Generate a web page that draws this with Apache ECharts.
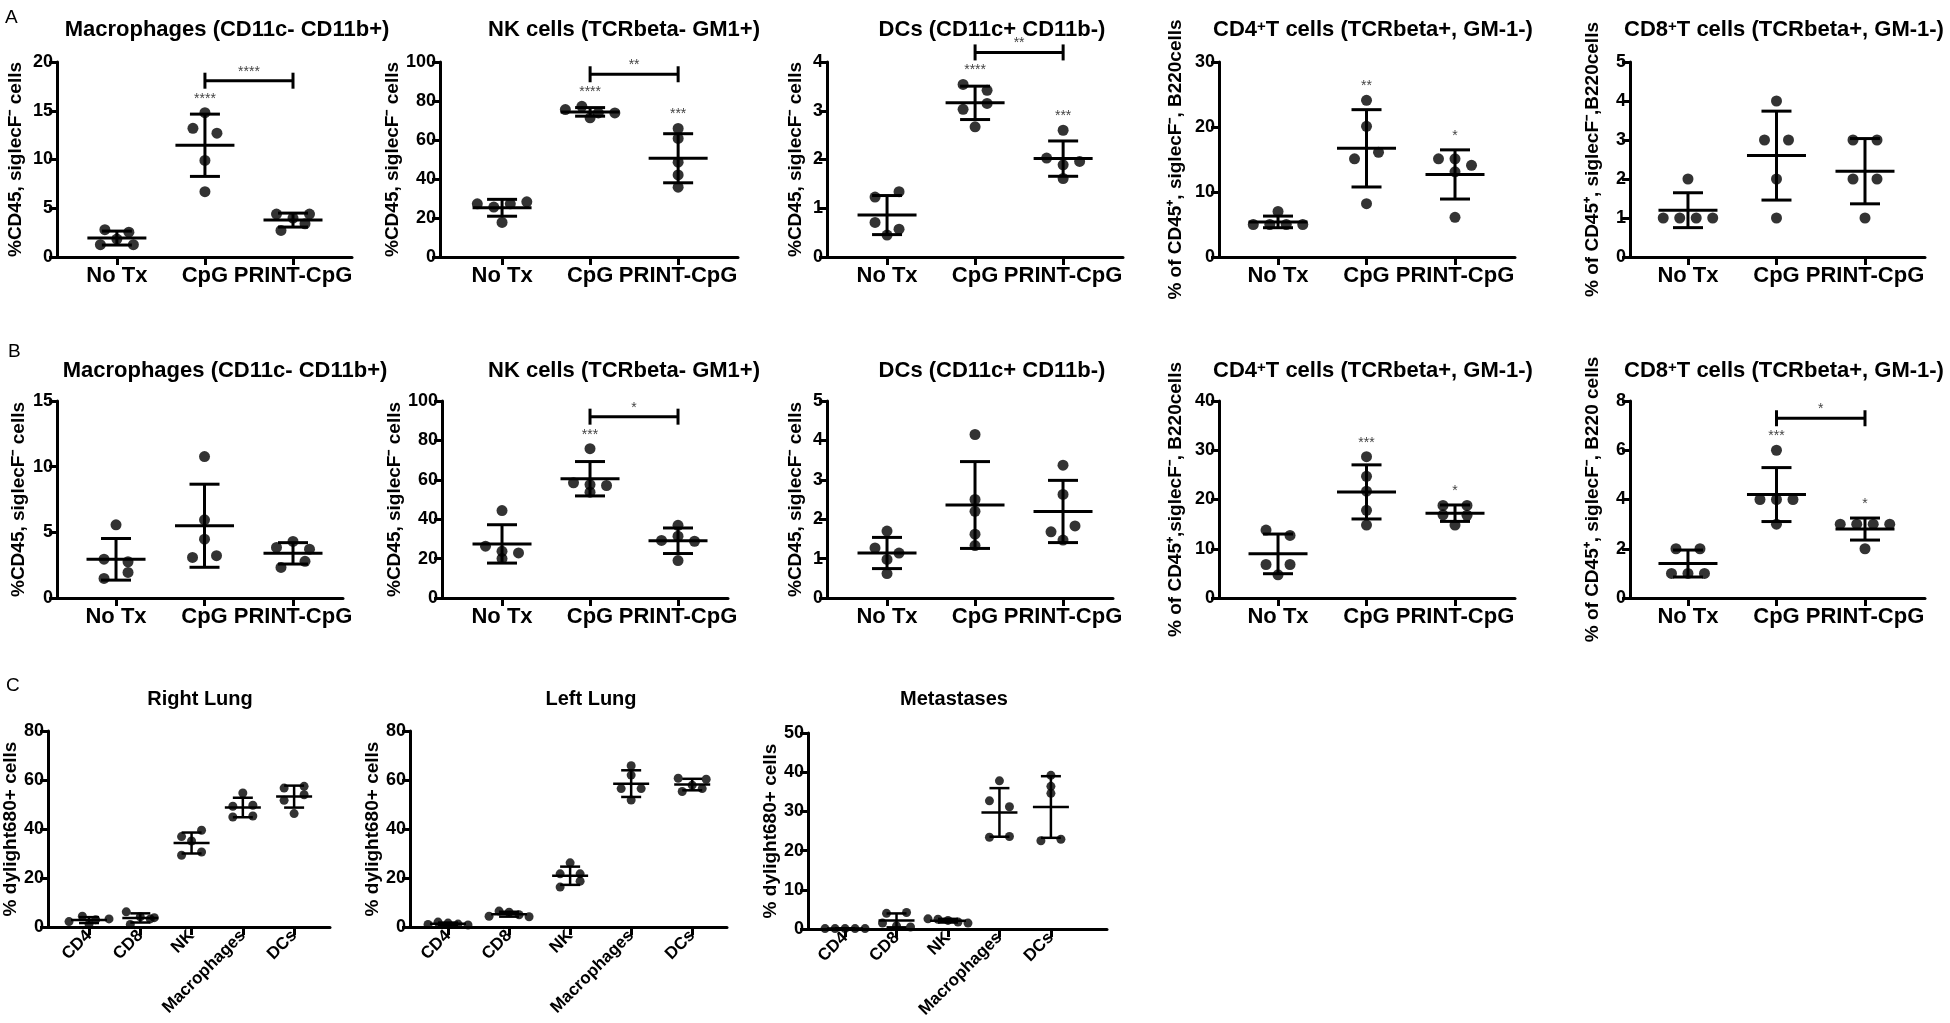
<!DOCTYPE html>
<html>
<head>
<meta charset="utf-8">
<title>Immune cell panels</title>
<script src="https://cdn.jsdelivr.net/npm/echarts@6.0.0/dist/echarts.min.js"></script>
<style>
html, body { margin: 0; padding: 0; background: #ffffff; }
#chart { width: 1950px; height: 1023px; }
</style>
</head>
<body>
<div id="chart"></div>
<script>
// ====================== DATA ======================
const groupsAB = ['No Tx', 'CpG', 'PRINT-CpG'];
const groupsC = ['CD4', 'CD8', 'NK', 'Macrophages', 'DCs'];

const titlesA = ['Macrophages (CD11c- CD11b+)', 'NK cells (TCRbeta- GM1+)', 'DCs (CD11c+ CD11b-)',
                 'CD4^+T cells (TCRbeta+, GM-1-)', 'CD8^+T cells (TCRbeta+, GM-1-)'];
const titlesB = titlesA.slice();
const titlesC = ['Right Lung', 'Left Lung', 'Metastases'];

const yNamesA = ['%CD45, siglecF\u207B cells', '%CD45, siglecF\u207B cells', '%CD45, siglecF\u207B cells',
                 '% of CD45\u207A, siglecF\u207B, B220cells', '% of CD45\u207A, siglecF\u207B,B220cells'];
const yNamesB = ['%CD45, siglecF\u207B cells', '%CD45, siglecF\u207B cells', '%CD45, siglecF\u207B cells',
                 '% of CD45\u207A,siglecF\u207B, B220cells', '% of CD45\u207A, siglecF\u207B, B220 cells'];
const yNameC = '% dylight680+ cells';

const yMaxA = [20, 100, 4, 30, 5];
const yStepA = [5, 20, 1, 10, 1];
const yMaxB = [15, 100, 5, 40, 8];
const yStepB = [5, 20, 1, 10, 2];
const yMaxC = [80, 80, 50];
const yStepC = [20, 20, 10];

// Row A values per group (No Tx, CpG, PRINT-CpG)
const A_macrophages = [[2.8, 2.55, 1.26, 1.84, 1.26], [14.8, 13.2, 12.7, 9.9, 6.7], [4.4, 3.99, 4.4, 2.73, 3.41]];
const A_nk          = [[27.3, 25.6, 27.3, 28.3, 17.7], [75.6, 77.3, 73.9, 73.9, 71.4], [65.9, 60.8, 48.6, 42.1, 35.8]];
const A_dcs         = [[1.23, 1.34, 0.71, 0.57, 0.45], [3.54, 3.42, 3.03, 3.15, 2.67], [2.60, 2.03, 1.89, 1.96, 1.61]];
const A_cd4         = [[7.0, 5.0, 5.0, 5.0, 5.0], [24.1, 20.1, 15.1, 16.1, 8.2], [15.1, 15.1, 14.1, 13.1, 6.1]];
const A_cd8         = [[2, 1, 1, 1, 1], [4, 3, 3, 2, 1], [3, 3, 2, 2, 1]];

// Row B values per group
const B_macrophages = [[5.57, 2.96, 2.76, 1.49, 1.95], [10.77, 5.95, 4.48, 3.09, 3.22], [3.85, 4.31, 3.72, 2.33, 2.79]];
const B_nk          = [[44.4, 26.3, 23.7, 22.9, 20.0], [75.8, 58.5, 57.6, 57.1, 53.7], [36.9, 29.2, 31.4, 28.8, 19.0]];
const B_dcs         = [[1.7, 1.27, 1.14, 0.98, 0.62], [4.15, 2.5, 2.2, 1.62, 1.33], [3.37, 2.63, 1.68, 1.83, 1.47]];
const B_cd4         = [[13.8, 12.7, 6.8, 6.8, 4.7], [28.7, 24.7, 21.7, 17.8, 14.8], [18.8, 18.8, 16.9, 16.8, 14.8]];
const B_cd8         = [[2, 2, 1, 1, 1], [6, 4, 4, 4, 3], [3, 3, 3, 3, 2]];

// Row C values per cell type (CD4, CD8, NK, Macrophages, DCs)
const C_rightLung  = [[2.2, 4.4, 3.0, 3.3, 1.2], [6.2, 4.2, 3.8, 1.0, 3.3], [36.9, 39.5, 35.1, 29.3, 30.6],
                      [54.7, 49.3, 49.7, 44.9, 45.3], [56.7, 57.4, 51.7, 54.0, 46.3]];
const C_leftLung   = [[1.0, 2.0, 1.6, 1.2, 0.8], [4.4, 6.5, 6.0, 5.0, 4.2], [26.2, 21.7, 21.7, 16.3, 18.7],
                      [65.8, 62.0, 56.5, 56.5, 51.8], [60.7, 57.9, 60.3, 55.3, 56.5]];
const C_metastases = [[0.1, 0.1, 0.1, 0.1, 0.1], [4.0, 4.2, 1.5, 0.8, 0.5], [2.6, 2.5, 2.2, 1.8, 1.5],
                      [37.8, 32.7, 31.2, 23.4, 23.6], [39.2, 36.4, 34.6, 22.5, 22.9]];

// Significance marks (per group) and brackets [fromGroup, toGroup, label]
const starsA = [['', '****', ''], ['', '****', '***'], ['', '****', '***'], ['', '**', '*'], ['', '', '']];
const bracketsA = [[2, 3, '****'], [2, 3, '**'], [2, 3, '**'], null, null];
const starsB = [['', '', ''], ['', '***', ''], ['', '', ''], ['', '***', '*'], ['', '***', '*']];
const bracketsB = [null, [2, 3, '*'], null, null, [2, 3, '*']];

// ====================== LAYOUT / STYLE ======================
const FONT = "'Liberation Sans', Arial, Helvetica, sans-serif";
const LAYOUT = {
  A: { top: 62, height: 195, titleY: 19, panels: [
    { left: 57,   width: 295, xMin: 0.32,  xMax: 3.67,  titleX: 227,  nameGap: 32 },
    { left: 440,  width: 298, xMin: 0.295, xMax: 3.68,  titleX: 624,  nameGap: 27 },
    { left: 827,  width: 296, xMin: 0.318, xMax: 3.68,  titleX: 992,  nameGap: 22 },
    { left: 1219, width: 296, xMin: 0.333, xMax: 3.678, titleX: 1373, nameGap: 34 },
    { left: 1630, width: 295, xMin: 0.345, xMax: 3.678, titleX: 1784, nameGap: 28 } ] },
  B: { top: 401, height: 197, titleY: 360, panels: [
    { left: 57,   width: 286, xMin: 0.333, xMax: 3.565, titleX: 225,  nameGap: 29 },
    { left: 442,  width: 286, xMin: 0.318, xMax: 3.568, titleX: 624,  nameGap: 30 },
    { left: 827,  width: 286, xMin: 0.318, xMax: 3.568, titleX: 992,  nameGap: 22 },
    { left: 1219, width: 296, xMin: 0.333, xMax: 3.678, titleX: 1373, nameGap: 34 },
    { left: 1630, width: 295, xMin: 0.345, xMax: 3.678, titleX: 1784, nameGap: 28 } ] },
  C: { titleY: 689, panels: [
    { left: 48,  top: 731, height: 196, width: 282, xMin: 0.2,   xMax: 5.7,  titleX: 200, nameGap: 25 },
    { left: 410, top: 731, height: 196, width: 317, xMin: 0.377, xMax: 5.57, titleX: 591, nameGap: 25 },
    { left: 808, top: 733, height: 196, width: 299, xMin: 0.28,  xMax: 6.09, titleX: 954, nameGap: 27 } ] }
};
const STYLE_AB = { dot: 11, rowPx: 8, step: 16.5, maxW: 51, pairHalf: 12, meanHalf: 29.5, capHalf: 15,
                   barW: 3, axisW: 3, tickLen: 8, tickFont: 18, catFont: 22, nameFont: 19, titleFont: 22, rotate: 0 };
const STYLE_C  = { dot: 9, rowPx: 7, step: 14, maxW: 40, pairHalf: 10, meanHalf: 18, capHalf: 10,
                   barW: 2.5, axisW: 3, tickLen: 8, tickFont: 18, catFont: 17, nameFont: 19, titleFont: 20, rotate: 45 };

// ====================== HELPERS ======================
function mean(a) { return a.reduce((s, v) => s + v, 0) / a.length; }
function sdev(a) { const m = mean(a); return Math.sqrt(a.reduce((s, v) => s + (v - m) * (v - m), 0) / (a.length - 1)); }

// Column-scatter layout: points closer than rowPx vertically share a row and are spread symmetrically
function swarm(vals, pxPerY, st) {
  const order = vals.map((v, i) => i).sort((a, b) => (vals[b] - vals[a]) || (a - b));
  const rows = []; let row = null, startV = null;
  order.forEach(i => {
    if (row && (startV - vals[i]) * pxPerY < st.rowPx) row.push(i);
    else { row = [i]; startV = vals[i]; rows.push(row); }
  });
  const off = vals.map(() => 0);
  rows.forEach(r => {
    r.sort((a, b) => a - b);
    const n = r.length;
    if (n === 2) { off[r[0]] = -st.pairHalf; off[r[1]] = st.pairHalf; return; }
    const s = n > 1 ? Math.min(st.step, st.maxW / (n - 1)) : 0;
    r.forEach((i, j) => { off[i] = (j - (n - 1) / 2) * s; });
  });
  return off;
}

function richTitle(t) {
  const k = t.indexOf('^');
  if (k < 0) return t;
  return t.slice(0, k) + '{sup|' + t[k + 1] + '}' + t.slice(k + 2);
}

// ====================== BUILD ======================
const panels = [];
const rowA = [A_macrophages, A_nk, A_dcs, A_cd4, A_cd8];
const rowB = [B_macrophages, B_nk, B_dcs, B_cd4, B_cd8];
const rowC = [C_rightLung, C_leftLung, C_metastases];
rowA.forEach((d, i) => panels.push({ data: d, groups: groupsAB, yMax: yMaxA[i], yStep: yStepA[i], stars: starsA[i],
  bracket: bracketsA[i], title: titlesA[i], yName: yNamesA[i], st: STYLE_AB,
  L: Object.assign({ top: LAYOUT.A.top, height: LAYOUT.A.height, titleY: LAYOUT.A.titleY }, LAYOUT.A.panels[i]) }));
rowB.forEach((d, i) => panels.push({ data: d, groups: groupsAB, yMax: yMaxB[i], yStep: yStepB[i], stars: starsB[i],
  bracket: bracketsB[i], title: titlesB[i], yName: yNamesB[i], st: STYLE_AB,
  L: Object.assign({ top: LAYOUT.B.top, height: LAYOUT.B.height, titleY: LAYOUT.B.titleY }, LAYOUT.B.panels[i]) }));
rowC.forEach((d, i) => panels.push({ data: d, groups: groupsC, yMax: yMaxC[i], yStep: yStepC[i], stars: null,
  bracket: null, title: titlesC[i], yName: yNameC, st: STYLE_C,
  L: Object.assign({ titleY: LAYOUT.C.titleY }, LAYOUT.C.panels[i]) }));

const option = { animation: false, backgroundColor: '#ffffff', grid: [], xAxis: [], yAxis: [], series: [], graphic: [] };

panels.forEach((p, k) => {
  const L = p.L, st = p.st;
  const pxPerY = L.height / p.yMax;
  const pxPerX = L.width / (L.xMax - L.xMin);
  const ticks = p.groups.map((g, i) => i + 1);

  option.grid.push({ left: L.left, top: L.top, width: L.width, height: L.height, containLabel: false, outerBoundsMode: 'none' });

  option.xAxis.push({
    type: 'value', gridIndex: k, min: L.xMin, max: L.xMax,
    axisLine: { show: true, onZero: false, lineStyle: { color: '#000', width: st.axisW } },
    axisTick: { show: true, customValues: ticks, length: st.tickLen, lineStyle: { color: '#000', width: st.axisW } },
    axisLabel: { show: true, customValues: ticks, formatter: v => p.groups[Math.round(v) - 1] || '',
                 rotate: st.rotate, margin: st.rotate ? 6 : 8, color: '#000', fontFamily: FONT,
                 fontWeight: 'bold', fontSize: st.catFont },
    splitLine: { show: false }
  });

  option.yAxis.push({
    type: 'value', gridIndex: k, min: 0, max: p.yMax, interval: p.yStep,
    name: p.yName, nameLocation: 'middle', nameRotate: 90, nameGap: L.nameGap,
    nameTextStyle: { color: '#000', fontFamily: FONT, fontWeight: 'bold', fontSize: st.nameFont },
    axisLine: { show: true, onZero: false, lineStyle: { color: '#000', width: st.axisW } },
    axisTick: { show: true, length: st.tickLen, lineStyle: { color: '#000', width: st.axisW } },
    axisLabel: { color: '#000', fontFamily: FONT, fontWeight: 'bold', fontSize: st.tickFont, margin: 4 },
    splitLine: { show: false }
  });

  // scatter points
  const pts = [];
  p.data.forEach((vals, g) => {
    const off = swarm(vals, pxPerY, st);
    vals.forEach((v, i) => pts.push([g + 1 + off[i] / pxPerX, v]));
  });
  option.series.push({
    type: 'scatter', xAxisIndex: k, yAxisIndex: k, data: pts, symbol: 'circle', symbolSize: st.dot,
    itemStyle: { color: '#000' }, silent: true, z: 5, clip: false
  });

  // mean +/- SD
  const stats = p.data.map((vals, g) => [g + 1, mean(vals), sdev(vals)]);
  option.series.push({
    type: 'custom', xAxisIndex: k, yAxisIndex: k, data: stats, silent: true, clip: false, z: 4,
    encode: { x: 0, y: 1 },
    renderItem: (params, api) => {
      const x = api.value(0), m = api.value(1), s = api.value(2);
      const pm = api.coord([x, m]), pt = api.coord([x, m + s]), pb = api.coord([x, Math.max(m - s, 0)]);
      const ls = { stroke: '#000', lineWidth: st.barW };
      const ln = (x1, y1, x2, y2) => ({ type: 'line', shape: { x1, y1, x2, y2 }, style: ls });
      return { type: 'group', children: [
        ln(pm[0] - st.meanHalf, pm[1], pm[0] + st.meanHalf, pm[1]),
        ln(pt[0] - st.capHalf, pt[1], pt[0] + st.capHalf, pt[1]),
        ln(pb[0] - st.capHalf, pb[1], pb[0] + st.capHalf, pb[1]),
        ln(pt[0], pt[1], pb[0], pb[1])
      ] };
    }
  });

  // significance stars and brackets
  if (p.stars) {
    const tops = p.data.map((vals, g) => Math.max(Math.max.apply(null, vals), stats[g][1] + stats[g][2]));
    const starGap = 14, brGap = 18;
    option.series.push({
      type: 'custom', xAxisIndex: k, yAxisIndex: k, silent: true, clip: false, z: 6,
      data: tops.map((t, g) => [g + 1, t, g]), encode: { x: 0, y: 1 },
      renderItem: (params, api) => {
        const txt = p.stars[api.value(2)];
        if (!txt) return { type: 'group', children: [] };
        const c = api.coord([api.value(0), api.value(1)]);
        return { type: 'text', x: c[0], y: c[1] - starGap,
                 style: { text: txt, fill: '#444', fontSize: 14, fontFamily: FONT, align: 'center', verticalAlign: 'middle' } };
      }
    });
    if (p.bracket) {
      const b = p.bracket;
      option.series.push({
        type: 'custom', xAxisIndex: k, yAxisIndex: k, silent: true, clip: false, z: 6,
        data: [[b[0], b[1], tops[b[0] - 1], tops[b[1] - 1]]], encode: { x: [0, 1], y: [2, 3] },
        renderItem: (params, api) => {
          const pf = api.coord([api.value(0), api.value(2)]);
          const pt = api.coord([api.value(1), api.value(3)]);
          const y = Math.min(pf[1], pt[1]) - starGap - brGap;
          const ls = { stroke: '#000', lineWidth: 3 };
          return { type: 'group', children: [
            { type: 'line', shape: { x1: pf[0], y1: y, x2: pt[0], y2: y }, style: ls },
            { type: 'line', shape: { x1: pf[0], y1: y - 8, x2: pf[0], y2: y + 8 }, style: ls },
            { type: 'line', shape: { x1: pt[0], y1: y - 8, x2: pt[0], y2: y + 8 }, style: ls },
            { type: 'text', x: (pf[0] + pt[0]) / 2, y: y - 9,
              style: { text: b[2], fill: '#444', fontSize: 14, fontFamily: FONT, align: 'center', verticalAlign: 'middle' } }
          ] };
        }
      });
    }
  }

  // title
  option.graphic.push({
    type: 'text', x: L.titleX, y: L.titleY, silent: true,
    style: { text: richTitle(p.title), fill: '#000', fontFamily: FONT, fontWeight: 'bold', fontSize: st.titleFont,
             align: 'center', verticalAlign: 'top',
             rich: { sup: { fontFamily: FONT, fontWeight: 'bold', fontSize: 15, verticalAlign: 'top', fill: '#000' } } }
  });
});

// panel letters
[['A', 5, 8], ['B', 8, 342], ['C', 6, 676]].forEach(l => option.graphic.push({
  type: 'text', x: l[1], y: l[2], silent: true,
  style: { text: l[0], fill: '#000', fontFamily: FONT, fontSize: 19, fontWeight: 'normal' }
}));

const chart = echarts.init(document.getElementById('chart'), null, { renderer: 'canvas' });
chart.setOption(option);
</script>
</body>
</html>
